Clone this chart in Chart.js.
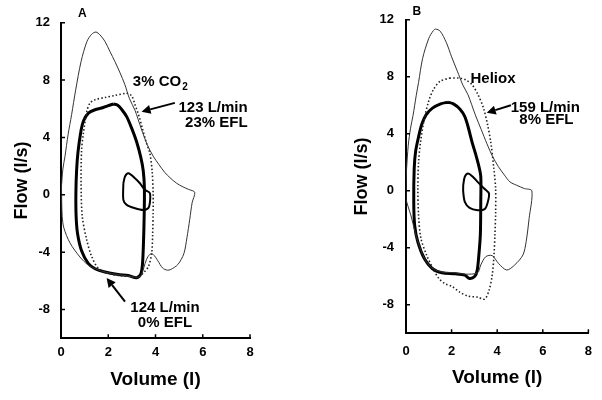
<!DOCTYPE html>
<html lang="en">
<head>
<meta charset="UTF-8">
<title>Flow-volume loops</title>
<style>
  body { margin: 0; background: #fff; }
  .panel { position: absolute; top: 0; width: 301px; height: 400px; }
  #panelA { left: 0; }
  #panelB { left: 301px; }
</style>
<script src="https://cdn.jsdelivr.net/npm/chart.js"></script>
</head>
<body>
<div class="panel" id="panelA"><canvas id="chartA"></canvas></div>
<div class="panel" id="panelB"><canvas id="chartB"></canvas></div>
<script>
// tick labels
const volumeTicks = [0, 2, 4, 6, 8];
const flowTicks = [-8, -4, 0, 4, 8, 12];

// Panel A: [volume l, flow l/s]
const maxLoopA = [[0.02,0.6],[0.08,1.8],[0.17,2.7],[0.3,4.2],[0.45,5.6],[0.62,7.3],[0.85,9.3],[1.1,10.7],[1.3,11.2],[1.48,11.35],[1.65,11.15],[1.86,10.7],[2.07,10.0],[2.28,9.3],[2.5,8.5],[2.7,7.7],[2.9,6.7],[3.13,5.9],[3.4,4.6],[3.65,3.5],[3.9,2.7],[4.15,2.1],[4.4,1.55],[4.61,1.2],[4.9,0.8],[5.16,0.56],[5.4,0.38],[5.66,0.18],[5.55,-0.55],[5.45,-1.7],[5.33,-3.0],[5.2,-4.1],[4.95,-4.85],[4.65,-5.2],[4.5,-5.25],[4.3,-5.1],[4.1,-4.6],[3.9,-4.15],[3.76,-4.15],[3.62,-4.5],[3.5,-5.1],[3.38,-5.65],[3.2,-5.75],[2.8,-5.65],[2.4,-5.55],[1.9,-5.4],[1.45,-5.15],[1.14,-4.88],[0.8,-4.33],[0.38,-3.35],[0.12,-2.3],[0.05,-1.5],[0.03,-0.5],[0.02,0.6]];
const exLoopA = [[2.21,6.33],[2.4,6.25],[2.57,5.95],[2.78,5.45],[2.99,4.65],[3.2,3.7],[3.38,2.6],[3.48,1.7],[3.53,0.5],[3.52,-1.5],[3.49,-3.4],[3.45,-4.8],[3.38,-5.5],[3.2,-5.78],[2.85,-5.62],[2.42,-5.55],[1.86,-5.38],[1.44,-5.15],[1.16,-4.8],[0.87,-3.9],[0.7,-2.7],[0.64,-1.5],[0.63,0.1],[0.66,1.7],[0.72,3.0],[0.85,4.5],[0.95,5.15],[1.16,5.7],[1.44,5.93],[1.72,6.05],[2.0,6.22],[2.21,6.33]];
const co2LoopA = [[2.78,7.1],[2.99,6.9],[3.13,6.3],[3.3,5.5],[3.45,4.6],[3.6,3.7],[3.76,2.9],[3.86,1.6],[3.9,0.1],[3.9,-1.3],[3.88,-2.7],[3.84,-4.05],[3.7,-5.0],[3.48,-5.45],[3.27,-5.75],[3.0,-5.7],[2.57,-5.65],[2.0,-5.47],[1.58,-5.12],[1.3,-4.3],[1.09,-3.15],[0.9,-1.5],[0.85,0.8],[0.87,3.1],[0.94,4.2],[1.09,5.8],[1.23,6.4],[1.44,6.63],[1.86,6.79],[2.28,6.93],[2.78,7.1]];
const restLoopA = [[2.64,0.81],[2.71,1.28],[2.85,1.5],[3.13,1.16],[3.34,0.81],[3.55,0.35],[3.76,0.12],[3.76,-0.58],[3.69,-0.93],[3.48,-1.05],[3.13,-0.93],[2.78,-0.7],[2.64,-0.35],[2.64,0.81]];

// Panel B
const maxLoopB = [[0.0,0.5],[0.02,1.4],[0.1,3.2],[0.2,4.4],[0.31,5.3],[0.45,6.7],[0.55,7.6],[0.73,9.3],[1.0,10.7],[1.2,11.24],[1.3,11.35],[1.5,11.2],[1.77,10.4],[2.0,9.4],[2.25,8.4],[2.5,7.4],[2.72,6.74],[3.04,5.33],[3.3,4.3],[3.55,3.3],[3.8,2.4],[4.05,1.7],[4.32,1.1],[4.56,0.62],[4.84,0.4],[5.19,0.16],[5.52,0.0],[5.4,-1.94],[5.27,-3.57],[5.13,-4.5],[4.77,-5.2],[4.42,-5.56],[4.06,-5.1],[3.78,-4.55],[3.5,-4.62],[3.28,-5.2],[3.14,-5.75],[2.6,-5.85],[2.15,-5.75],[1.58,-5.7],[1.16,-5.45],[0.81,-4.75],[0.52,-3.55],[0.4,-2.9],[0.21,-1.7],[0.0,-0.55],[0.0,0.5]];
const exLoopB = [[1.84,6.22],[2.08,6.1],[2.37,5.73],[2.58,5.21],[2.72,4.51],[2.9,3.4],[3.05,2.6],[3.2,1.7],[3.28,1.0],[3.28,-0.77],[3.26,-3.12],[3.18,-4.8],[3.12,-5.6],[3.02,-6.0],[2.79,-6.15],[2.58,-5.92],[2.15,-5.82],[1.58,-5.75],[1.16,-5.47],[0.81,-4.77],[0.52,-3.59],[0.38,-2.42],[0.34,-0.77],[0.36,1.57],[0.42,2.75],[0.57,3.92],[0.7,4.7],[0.88,5.33],[1.16,5.8],[1.52,6.1],[1.84,6.22]];
const helioxLoopB = [[1.91,7.91],[2.34,7.91],[2.62,7.79],[2.9,7.44],[3.16,6.74],[3.4,5.8],[3.58,4.62],[3.72,3.4],[3.85,1.6],[3.93,0.2],[3.93,-1.6],[3.9,-3.1],[3.86,-4.5],[3.78,-5.94],[3.64,-7.0],[3.45,-7.6],[3.14,-7.46],[2.72,-7.39],[2.36,-7.11],[2.01,-6.7],[1.73,-6.53],[1.44,-6.15],[1.2,-5.5],[0.9,-4.5],[0.65,-3.3],[0.55,-1.7],[0.52,0.16],[0.55,2.0],[0.64,3.45],[0.78,4.86],[0.99,6.27],[1.2,7.09],[1.49,7.68],[1.91,7.91]];
const restLoopB = [[2.51,0.4],[2.58,0.99],[2.72,1.22],[2.93,0.99],[3.14,0.63],[3.43,0.16],[3.64,-0.19],[3.57,-0.89],[3.45,-1.29],[3.14,-1.36],[2.79,-1.2],[2.58,-0.77],[2.51,-0.07],[2.51,0.4]];

const FONT = 'Arial, "Liberation Sans", Helvetica, sans-serif';

function loopSet(points, kind) {
    const styles = {
        max:  { borderColor: '#333', borderWidth: 1 },
        gas:  { borderColor: '#222', borderWidth: 1.6, borderDash: [1.5, 2.2] },
        ex:   { borderColor: '#000', borderWidth: 3 },
        rest: { borderColor: '#000', borderWidth: 2 }
    };
    return Object.assign({
        data: points.map(p => ({ x: p[0], y: p[1] })),
        showLine: true, pointRadius: 0, tension: 0.3, fill: false
    }, styles[kind]);
}

// inward ticks, panel letter, labels and arrows (all placed in data units)
function extras(notes, arrows) {
    return {
        id: 'extras',
        afterDraw(chart) {
            const { ctx, chartArea: a, scales: { x, y } } = chart;
            ctx.save();
            ctx.strokeStyle = '#000';
            ctx.lineWidth = 1.5;
            ctx.beginPath();
            x.ticks.forEach(t => { const px = x.getPixelForValue(t.value); ctx.moveTo(px, a.bottom); ctx.lineTo(px, a.bottom - 4); });
            y.ticks.forEach(t => { const py = y.getPixelForValue(t.value); ctx.moveTo(a.left, py); ctx.lineTo(a.left + 4, py); });
            ctx.stroke();

            ctx.fillStyle = '#000';
            ctx.textBaseline = 'middle';
            notes.forEach(n => {
                ctx.font = 'bold ' + (n.size || 15) + 'px ' + FONT;
                ctx.textAlign = n.align || 'left';
                const px = x.getPixelForValue(n.x), py = y.getPixelForValue(n.y);
                ctx.fillText(n.text, px, py);
                if (n.sub) {
                    const w = ctx.measureText(n.text).width;
                    ctx.font = 'bold 10px ' + FONT;
                    ctx.textAlign = 'left';
                    ctx.fillText(n.sub, px + w + 1, py + 5);
                }
            });

            ctx.lineWidth = 2;
            arrows.forEach(ar => {
                const x0 = x.getPixelForValue(ar.from[0]), y0 = y.getPixelForValue(ar.from[1]);
                const x1 = x.getPixelForValue(ar.to[0]), y1 = y.getPixelForValue(ar.to[1]);
                const ang = Math.atan2(y1 - y0, x1 - x0);
                const hl = 9, hw = 4.5;
                const bx = x1 - hl * Math.cos(ang), by = y1 - hl * Math.sin(ang);
                ctx.beginPath();
                ctx.moveTo(x0, y0);
                ctx.lineTo(bx, by);
                ctx.stroke();
                ctx.beginPath();
                ctx.moveTo(x1, y1);
                ctx.lineTo(bx + hw * Math.sin(ang), by - hw * Math.cos(ang));
                ctx.lineTo(bx - hw * Math.sin(ang), by + hw * Math.cos(ang));
                ctx.closePath();
                ctx.fill();
            });
            ctx.restore();
        }
    };
}

function makePanel(id, sets, box, notes, arrows) {
    return new Chart(document.getElementById(id), {
        type: 'scatter',
        data: { datasets: sets },
        options: {
            responsive: true,
            maintainAspectRatio: false,
            animation: false,
            layout: { padding: { left: 0, top: box.top, right: box.right, bottom: 0 } },
            plugins: { legend: { display: false }, tooltip: { enabled: false } },
            scales: {
                x: {
                    type: 'linear', min: 0, max: 8,
                    afterBuildTicks: s => { s.ticks = volumeTicks.map(v => ({ value: v })); },
                    afterFit: s => { s.height = box.xh; },
                    grid: { display: false, drawTicks: false },
                    border: { display: true, color: '#000', width: 2 },
                    ticks: { color: '#000', padding: box.xpad, maxRotation: 0, font: { family: FONT, size: 13, weight: 'bold' } },
                    title: { display: true, text: 'Volume (l)', color: '#000', padding: { top: 0, bottom: box.xtitle }, font: { family: FONT, size: 19, weight: 'bold' } }
                },
                y: {
                    type: 'linear', min: -10, max: 12,
                    afterBuildTicks: s => { s.ticks = flowTicks.map(v => ({ value: v })); },
                    afterFit: s => { s.width = box.yw; },
                    grid: { display: false, drawTicks: false },
                    border: { display: true, color: '#000', width: 2 },
                    ticks: { color: '#000', padding: box.ypad, font: { family: FONT, size: 13, weight: 'bold' } },
                    title: { display: true, text: 'Flow (l/s)', color: '#000', padding: { top: box.ytitle, bottom: 0 }, font: { family: FONT, size: 18, weight: 'bold' } }
                }
            }
        },
        plugins: [extras(notes, arrows)]
    });
}

makePanel('chartA',
    [loopSet(maxLoopA, 'max'), loopSet(co2LoopA, 'gas'), loopSet(exLoopA, 'ex'), loopSet(restLoopA, 'rest')],
    { top: 22.7, right: 51, xh: 61.7, yw: 61, xpad: 6, ypad: 11, xtitle: 8.6, ytitle: 11 },
    [
        { text: 'A', x: 0.72, y: 12.6, size: 12 },
        { text: '3% CO', sub: '2', x: 3.04, y: 7.87 },
        { text: '123 L/min', x: 7.9, y: 6.06, align: 'right' },
        { text: '23% EFL', x: 7.9, y: 5.02, align: 'right' },
        { text: '124 L/min', x: 4.4, y: -7.87, align: 'center' },
        { text: '0% EFL', x: 4.4, y: -8.92, align: 'center' }
    ],
    [
        { from: [4.82, 6.41], to: [3.41, 5.8] },
        { from: [2.71, -7.44], to: [1.93, -5.8] }
    ]);

makePanel('chartB',
    [loopSet(maxLoopB, 'max'), loopSet(helioxLoopB, 'gas'), loopSet(exLoopB, 'ex'), loopSet(restLoopB, 'rest')],
    { top: 19.3, right: 7.7, xh: 66.7, yw: 105, xpad: 10, ypad: 12, xtitle: 10.6, ytitle: 50 },
    [
        { text: 'B', x: 0.28, y: 12.54, size: 12 },
        { text: 'Heliox', x: 2.83, y: 7.85 },
        { text: '159 L/min', x: 6.11, y: 5.82, align: 'center' },
        { text: '8% EFL', x: 6.16, y: 4.98, align: 'center' }
    ],
    [
        { from: [4.6, 6.0], to: [3.54, 5.47] }
    ]);
</script>
</body>
</html>
